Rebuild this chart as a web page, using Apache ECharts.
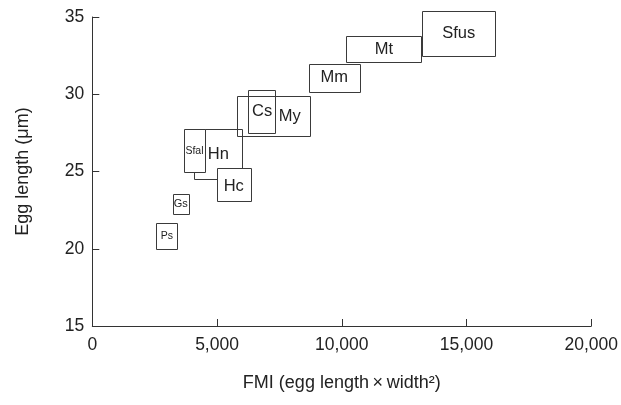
<!DOCTYPE html>
<html>
<head>
<meta charset="utf-8">
<script src="https://cdn.jsdelivr.net/npm/echarts@6/dist/echarts.min.js"></script>
<style>html,body{margin:0;padding:0;background:#fff}#c{width:621px;height:405px}</style>
</head>
<body>
<div id="c"></div>
<script>
// Species boxes: FMI range (x) and egg length range (y)
const names = ['Sfus', 'Mt', 'Mm', 'My', 'Cs', 'Hn', 'Sfal', 'Hc', 'Gs', 'Ps'];
const fmiMin = [13220, 10180, 8680, 5820, 6260, 4080, 3680, 4980, 3220, 2560];
const fmiMax = [16150, 13200, 10710, 8750, 7360, 6020, 4510, 6360, 3870, 3420];
const lenMin = [32.48, 32.09, 30.15, 27.30, 27.47, 24.50, 24.95, 23.11, 22.23, 20.00];
const lenMax = [35.42, 33.77, 31.96, 29.89, 30.26, 27.73, 27.73, 25.23, 23.52, 21.69];
const labelFmi = [null, null, null, 7910, null, null, null, null, null, null];
const labelLen = [null, null, null, null, null, null, null, 24.05, null, null];
const xTicks = [0, 5000, 10000, 15000, 20000];
const yTicks = [15, 20, 25, 30, 35];

const smallLabels = { Sfal: 10.5, Gs: 11, Ps: 10.5 };
const whiteFill = { Sfal: true, Hc: true };

const data = names.map((n, i) => [fmiMin[i], fmiMax[i], lenMin[i], lenMax[i],
  labelFmi[i] == null ? (fmiMin[i] + fmiMax[i]) / 2 : labelFmi[i],
  labelLen[i] == null ? (lenMin[i] + lenMax[i]) / 2 : labelLen[i], i]);

const font = '"Liberation Sans", Arial, Helvetica, sans-serif';
const chart = echarts.init(document.getElementById('c'));
chart.setOption({
  animation: false,
  grid: { left: 92.3, right: 28.7, top: 17, bottom: 79 },
  xAxis: {
    type: 'value', min: xTicks[0], max: xTicks[xTicks.length - 1], interval: 5000,
    name: 'FMI (egg length\u2009\u00d7\u2009width\u00b2)', nameLocation: 'middle', nameGap: 48,
    nameTextStyle: { fontFamily: font, fontSize: 18, color: '#222' },
    axisLine: { show: true, lineStyle: { color: '#333', width: 1 } },
    axisTick: { show: true, inside: true, length: 7, lineStyle: { color: '#333' } },
    axisLabel: { fontFamily: font, fontSize: 17.5, color: '#222', margin: 10,
      formatter: v => v.toLocaleString('en-US') },
    splitLine: { show: false }
  },
  yAxis: {
    type: 'value', min: yTicks[0], max: yTicks[yTicks.length - 1], interval: 5,
    name: 'Egg length (\u03bcm)', nameLocation: 'middle', nameGap: 60, nameRotate: 90,
    nameTextStyle: { fontFamily: font, fontSize: 18, color: '#222' },
    axisLine: { show: true, lineStyle: { color: '#333', width: 1 } },
    axisTick: { show: true, inside: true, length: 7, lineStyle: { color: '#333' } },
    axisLabel: { fontFamily: font, fontSize: 17.5, color: '#222', margin: 8 },
    splitLine: { show: false }
  },
  series: [{
    type: 'custom',
    clip: false,
    encode: { x: [0, 1, 4], y: [2, 3, 5] },
    data: data,
    renderItem: function (params, api) {
      const p1 = api.coord([api.value(0), api.value(3)]);
      const p2 = api.coord([api.value(1), api.value(2)]);
      const lp = api.coord([api.value(4), api.value(5)]);
      const name = names[api.value(6)];
      const fs = smallLabels[name] || 16.5;
      return {
        type: 'group',
        children: [{
          type: 'rect',
          shape: { x: Math.round(p1[0]) + 0.5, y: Math.round(p1[1]) + 0.5,
                   width: Math.round(p2[0] - p1[0]), height: Math.round(p2[1] - p1[1]) },
          style: { fill: whiteFill[name] ? '#fff' : 'none', stroke: '#3a3a3a', lineWidth: 1 }
        }, {
          type: 'text',
          x: lp[0], y: lp[1],
          style: { text: name, fontFamily: font, fontSize: fs, fill: '#222',
                   align: 'center', verticalAlign: 'middle' }
        }]
      };
    }
  }]
});
</script>
</body>
</html>
